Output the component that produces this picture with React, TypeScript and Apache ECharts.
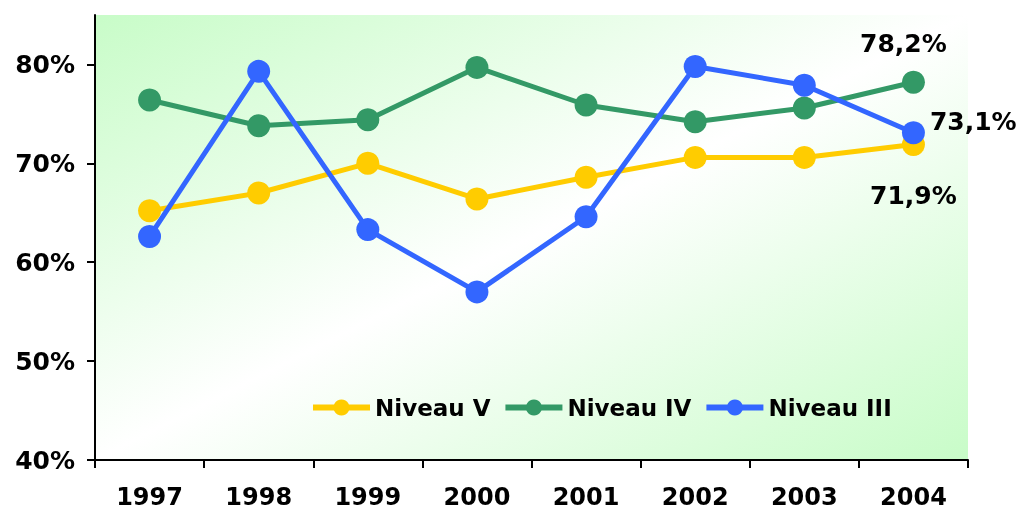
import React, { useEffect, useRef } from "react";
import * as echarts from "echarts";

const categories = ["1997", "1998", "1999", "2000", "2001", "2002", "2003", "2004"];
const niveauV = [65.2, 67.0, 70.0, 66.4, 68.6, 70.6, 70.6, 71.9];
const niveauIV = [76.4, 73.8, 74.4, 79.7, 75.9, 74.2, 75.6, 78.2];
const niveauIII = [62.6, 79.3, 63.3, 57.0, 64.6, 79.8, 77.9, 73.1];
const yTicks = [40, 50, 60, 70, 80];

const FONT = "DejaVu Sans";

const fmt = (v: number) => v.toFixed(1).replace(".", ",") + "%";

function withLastLabel(values: number[], label: any) {
  return values.map((v, i) =>
    i === values.length - 1 ? { value: v, label: { show: true, ...label } } : v
  );
}

export default function App() {
  const ref = useRef<HTMLDivElement>(null);
  useEffect(() => {
    if (!ref.current) return;
    const chart = echarts.init(ref.current, undefined, { renderer: "svg" });
    const labelBase = {
      fontFamily: FONT,
      fontWeight: "bold",
      fontSize: 25,
      color: "#000",
      formatter: (p: any) => fmt(p.value),
    };
    const mk = (name: string, color: string, data: any[]) => ({
      name,
      type: "line",
      data,
      symbol: "circle",
      symbolSize: 23,
      lineStyle: { color, width: 5 },
      itemStyle: { color },
      label: { show: false },
      z: 3,
    });
    chart.setOption({
      animation: false,
      grid: {
        left: 95,
        right: 52,
        top: 15,
        bottom: 50,
        show: true,
        borderWidth: 0,
        backgroundColor: new echarts.graphic.LinearGradient(0, 0, 1, 1, [
          { offset: 0, color: "#c8fcc8" },
          { offset: 0.5, color: "#ffffff" },
          { offset: 1, color: "#c8fcc8" },
        ]),
      },
      legend: {
        left: 310,
        top: 396,
        padding: 0,
        itemWidth: 57,
        itemHeight: 20,
        itemGap: 12,
        lineStyle: { width: 6 },
        textStyle: { fontFamily: FONT, fontWeight: "bold", fontSize: 23, color: "#000" },
        data: ["Niveau V", "Niveau IV", "Niveau III"],
      },
      xAxis: {
        type: "category",
        data: categories,
        boundaryGap: true,
        axisLine: { lineStyle: { color: "#000", width: 2 } },
        axisTick: { show: true, length: 8, lineStyle: { color: "#000", width: 2 } },
        axisLabel: {
          margin: 25,
          fontFamily: FONT,
          fontWeight: "bold",
          fontSize: 24,
          color: "#000",
        },
        splitLine: { show: false },
      },
      yAxis: {
        type: "value",
        min: 40,
        max: 85,
        interval: 10,
        axisLine: { show: true, lineStyle: { color: "#000", width: 2 } },
        axisTick: {
          show: true,
          length: 8,
          customValues: yTicks,
          lineStyle: { color: "#000", width: 2 },
        },
        axisLabel: {
          margin: 20,
          customValues: yTicks,
          fontFamily: FONT,
          fontWeight: "bold",
          fontSize: 25,
          color: "#000",
          formatter: (v: number) => v + "%",
        },
        splitLine: { show: false },
      },
      series: [
        mk(
          "Niveau V",
          "#ffcc00",
          withLastLabel(niveauV, { ...labelBase, position: "bottom", distance: 27 })
        ),
        mk(
          "Niveau IV",
          "#339966",
          withLastLabel(niveauIV, { ...labelBase, position: "top", distance: 15, offset: [-10, 0] })
        ),
        mk(
          "Niveau III",
          "#3366ff",
          withLastLabel(niveauIII, { ...labelBase, position: "right", distance: 5, offset: [0, -11] })
        ),
      ],
    });
    return () => chart.dispose();
  }, []);
  return (
    <div
      ref={ref}
      style={{ position: "fixed", left: 0, top: 0, width: 1020, height: 510 }}
    />
  );
}
